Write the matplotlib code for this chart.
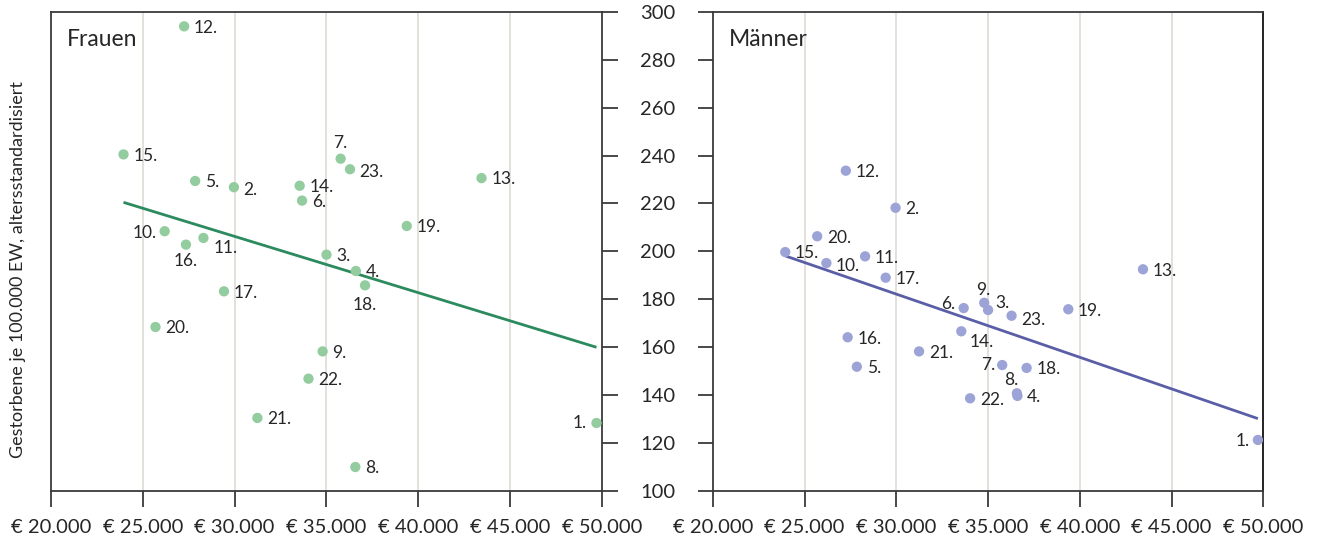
import numpy as np
import matplotlib.pyplot as plt
from matplotlib.ticker import FuncFormatter

plt.rcParams['font.family'] = ['Lato', 'DejaVu Sans']

# Region numbers 1..23, disposable income per head (EUR)
regions = [str(i) + '.' for i in range(1, 24)]
income = [49700, 29960, 35000, 36600, 27850, 33670, 35770, 36570, 34790, 26190,
          28300, 27250, 43440, 33540, 23950, 27350, 29420, 37100, 39370, 25690,
          31240, 34020, 36280]

# deaths per 100,000 inhabitants, age standardised
women = [128.3, 226.8, 198.6, 191.8, 229.4, 221.2, 238.7, 109.9, 158.2, 208.4,
         205.6, 294.0, 230.6, 227.4, 240.5, 202.8, 183.3, 185.8, 210.6, 168.4,
         130.4, 146.8, 234.3]
men = [121.2, 218.2, 175.5, 139.6, 151.8, 176.3, 152.5, 140.7, 178.5, 195.1,
       197.9, 233.7, 192.5, 166.6, 199.7, 164.1, 189.0, 151.3, 175.8, 206.3,
       158.2, 138.6, 173.1]

# label offsets in points (dx, dy, ha) where the default would collide
women_offsets = {'1.': (-7, 0, 'right'), '7.': (0, 11, 'center'), '10.': (-6, -1, 'right'),
                 '16.': (0, -12, 'center'), '11.': (7, -7, 'left'), '18.': (0, -14, 'center'),
                 '2.': (7, -2, 'left'), '23.': (7, -2, 'left')}
men_offsets = {'1.': (-6, -1, 'right'), '6.': (-6, 3, 'right'), '9.': (-1, 9, 'center'),
               '3.': (5, 5, 'left'), '14.': (6, -7.5, 'left'), '7.': (-5, 0, 'right'),
               '8.': (-4, 9.5, 'center'), '10.': (7, -2, 'left'), '23.': (7, -3, 'left')}

fig = plt.figure(figsize=(13.17, 5.4), dpi=100)
ax1 = fig.add_axes([0.0387, 0.0913, 0.4184, 0.8865])
ax2 = fig.add_axes([0.5412, 0.0913, 0.4181, 0.8865])

euro = FuncFormatter(lambda v, p: '€ ' + f'{int(v):,}'.replace(',', '.'))
spine_col = '#3a3a3a'
text_col = '#262626'


def draw_panel(ax, values, dot_col, line_col, title, offsets):
    ax.set_xlim(20000, 50000)
    ax.set_ylim(100, 300)
    for gx in range(25000, 50000, 5000):
        ax.axvline(gx, color='#e4e0dc', lw=1.4, zorder=0)
    ax.scatter(income, values, s=55, color=dot_col, edgecolors='none', zorder=3)
    # linear trend over the income range
    k, d = np.polyfit(income, values, 1)
    xs = np.array([min(income), max(income)])
    ax.plot(xs, k * xs + d, color=line_col, lw=2.0, zorder=2, solid_capstyle='butt')
    for name, x, y in zip(regions, income, values):
        dx, dy, ha = offsets.get(name, (7, -1, 'left'))
        ax.annotate(name, (x, y), xytext=(dx, dy), textcoords='offset points',
                    ha=ha, va='center', fontsize=12.5, color=text_col, zorder=4)
    ax.text(0.029, 0.9415, title, transform=ax.transAxes, fontsize=16.5,
            color=text_col, va='center', ha='left')
    for s in ax.spines.values():
        s.set_color(spine_col)
        s.set_linewidth(1.3)
    ax.set_xticks(range(20000, 50001, 5000))
    ax.xaxis.set_major_formatter(euro)
    ax.tick_params(axis='x', direction='out', length=11.5, width=1.3, color=spine_col,
                   pad=9, labelsize=14.5, labelcolor=text_col)
    ax.set_yticks(range(100, 301, 20))


draw_panel(ax1, women, '#93cc9f', '#2b8a5e', 'Frauen', women_offsets)
draw_panel(ax2, men, '#9ca3d6', '#5a5ea6', 'Männer', men_offsets)

# shared y scale: ticks out of the inner spines, labels between the panels
ax1.yaxis.tick_right()
ax1.tick_params(axis='y', direction='out', length=11.5, width=1.3, color=spine_col,
                labelright=False)
ax2.tick_params(axis='y', direction='out', length=11, width=1.3, color=spine_col,
                pad=16, labelsize=14.5, labelcolor=text_col)
ax2.spines['right'].set_color('#111111')

fig.text(18 / 1317, 0.50, 'Gestorbene je 100.000 EW, altersstandardisiert',
         rotation=90, ha='center', va='center', fontsize=13, color=text_col)

fig.savefig('out.png', dpi=100)
